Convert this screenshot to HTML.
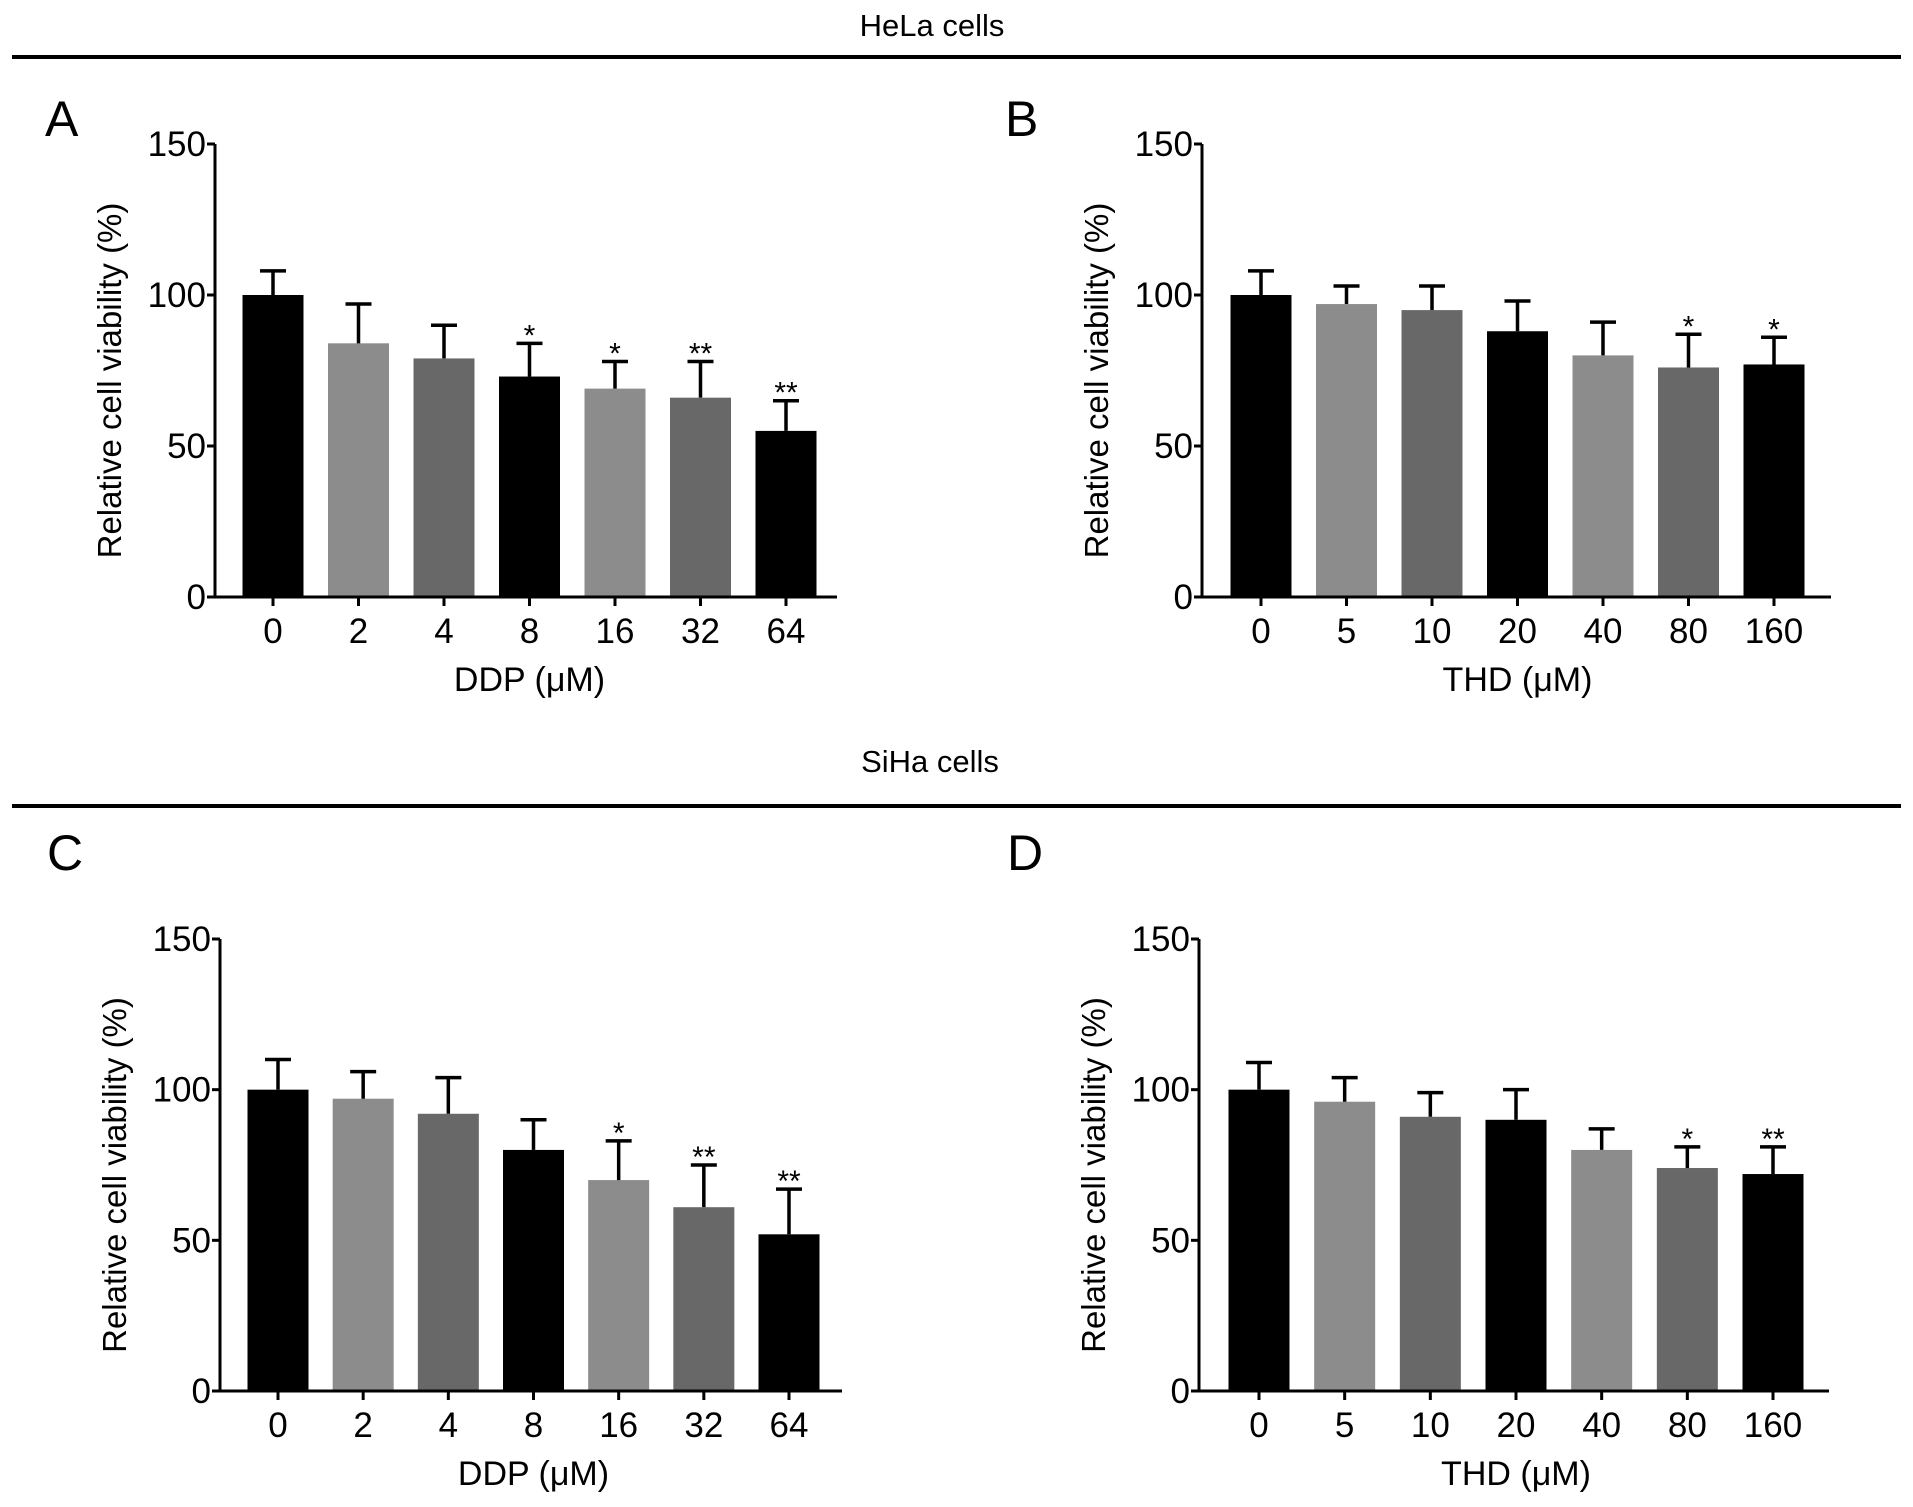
<!DOCTYPE html>
<html><head><meta charset="utf-8"><style>
html,body{margin:0;padding:0;background:#fff;}
svg{display:block;font-family:"Liberation Sans",sans-serif;}
</style></head><body>
<svg id="fig" width="1913" height="1507" viewBox="0 0 1913 1507">
<text x="932" y="36" font-size="31" text-anchor="middle">HeLa cells</text>
<line x1="12" y1="57" x2="1901" y2="57" stroke="#000" stroke-width="4"/>
<text x="930" y="772" font-size="31" text-anchor="middle">SiHa cells</text>
<line x1="12" y1="806" x2="1901" y2="806" stroke="#000" stroke-width="4"/>
</svg>
<script>
const ddpCats = ["0","2","4","8","16","32","64"];
const thdCats = ["0","5","10","20","40","80","160"];
const yTicks = [0,50,100,150];
const aVals = [100,84,79,73,69,66,55];
const aErr = [8,13,11,11,9,12,10];
const aStars = ["","","","*","*","**","**"];
const bVals = [100,97,95,88,80,76,77];
const bErr = [8,6,8,10,11,11,9];
const bStars = ["","","","","","*","*"];
const cVals = [100,97,92,80,70,61,52];
const cErr = [10,9,12,10,13,14,15];
const cStars = ["","","","","*","**","**"];
const dVals = [100,96,91,90,80,74,72];
const dErr = [9,8,8,10,7,7,9];
const dStars = ["","","","","","*","**"];

const svg = document.getElementById('fig');
const NS = 'http://www.w3.org/2000/svg';
function mk(tag, attrs, text){
  const e = document.createElementNS(NS, tag);
  for (const k in attrs) e.setAttribute(k, attrs[k]);
  if (text !== undefined) e.textContent = text;
  svg.appendChild(e);
  return e;
}
const colors = ["#000000","#8c8c8c","#686868"];

function panel(id, letter, lx, ly, ax, y0, y150, xEnd, t0, t6, cats, vals, errs, stars, xlabel){
  const yScale = v => y0 - (v/150)*(y0-y150);
  const step = (t6-t0)/6;
  const xScale = i => t0 + i*step;
  const bw = 61;
  let e;
  e = mk('text', {x:lx, y:ly, 'font-size':50}, letter);
  
  
  vals.forEach((v,i)=>{
    const cx = xScale(i);
    const top = yScale(v);
    e = mk('rect', {x:cx-bw/2, y:top, width:bw, height:y0-top, fill:colors[i%3]});
    
    
    const et = yScale(v+errs[i]);
    e = mk('path', {d:`M${cx},${top} L${cx},${et} M${cx-13},${et} L${cx+13},${et}`, stroke:'#000', 'stroke-width':3.5, fill:'none'});
    
    
    if (stars[i]) {
      e = mk('text', {x:cx, y:et+2, 'font-size':30, 'text-anchor':'middle'}, stars[i]);
      
      
    }
    e = mk('line', {x1:cx, y1:y0, x2:cx, y2:y0+9, stroke:'#000', 'stroke-width':3});
    
    
    e = mk('text', {x:cx, y:y0+46, 'font-size':35, 'text-anchor':'middle'}, cats[i]);
    
    
  });
  yTicks.forEach(t=>{
    const y = yScale(t);
    e = mk('line', {x1:ax-8, y1:y, x2:ax, y2:y, stroke:'#000', 'stroke-width':3});
    
    
    e = mk('text', {x:ax-9, y:y+12, 'font-size':35, 'text-anchor':'end'}, String(t));
    
    
  });
  e = mk('line', {x1:ax, y1:y150, x2:ax, y2:y0+1.5, stroke:'#000', 'stroke-width':3});
  
  
  e = mk('line', {x1:ax, y1:y0, x2:xEnd, y2:y0, stroke:'#000', 'stroke-width':3});
  
  
  e = mk('text', {x:(t0+t6)/2, y:y0+94, 'font-size':34, 'text-anchor':'middle'}, xlabel);
  
  
  const ty = (y0+y150)/2 + 10;
  e = mk('text', {x:ax-94, y:ty, 'font-size':33, 'text-anchor':'middle', transform:`rotate(-90 ${ax-94} ${ty})`}, 'Relative cell viability (%)');
  
  
}
panel('a','A',45,136,215,597,144,837,273,786,ddpCats,aVals,aErr,aStars,'DDP (\u03bcM)');
panel('b','B',1005,136,1202,597,144,1831,1261,1774,thdCats,bVals,bErr,bStars,'THD (\u03bcM)');
panel('c','C',47,870,220,1391,939,842,278,789,ddpCats,cVals,cErr,cStars,'DDP (\u03bcM)');
panel('d','D',1007,870,1199,1391,939,1829,1259,1773,thdCats,dVals,dErr,dStars,'THD (\u03bcM)');
</script>
</body></html>
